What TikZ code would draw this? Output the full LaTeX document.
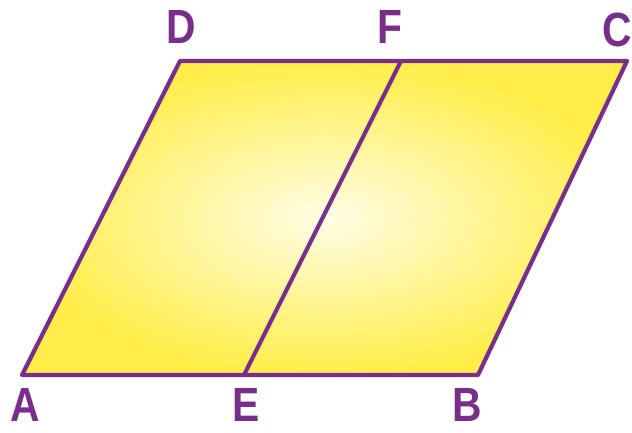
\documentclass[tikz,border=0pt]{standalone}
\usepackage{fontspec}
\setmainfont{Liberation Sans}[FakeStretch=0.85]
\definecolor{lilac}{HTML}{7A2E8C}
\definecolor{ylight}{HTML}{FFFDE6}
\definecolor{ydark}{HTML}{FFEE4A}
\begin{document}
\begin{tikzpicture}[x=1pt,y=-1pt,
  edge/.style={draw=lilac,line width=4.2pt,line join=round},
  lab/.style={text=lilac,font=\fontsize{48}{48}\selectfont\bfseries,inner sep=0pt}]
\useasboundingbox (0,0) rectangle (632,432);
\coordinate (A) at (22,375);
\coordinate (B) at (478,375);
\coordinate (C) at (627,61);
\coordinate (D) at (180,61);
\coordinate (E) at (244,375);
\coordinate (F) at (401,61);
\shade[inner color=ylight,outer color=ydark] (A) -- (B) -- (C) -- (D) -- cycle;
\draw[edge] (A) -- (B) -- (C) -- (D) -- cycle;
\draw[edge] (E) -- (F);
\node[lab] (lD) at (181,27) {D};
\node[lab] (lF) at (390,27) {F};
\node[lab] (lC) at (617,30) {C};
\node[lab] (lA) at (25,405) {A};
\node[lab] (lE) at (246,405) {E};
\node[lab] (lB) at (467,405) {B};
\end{tikzpicture}
\end{document}
